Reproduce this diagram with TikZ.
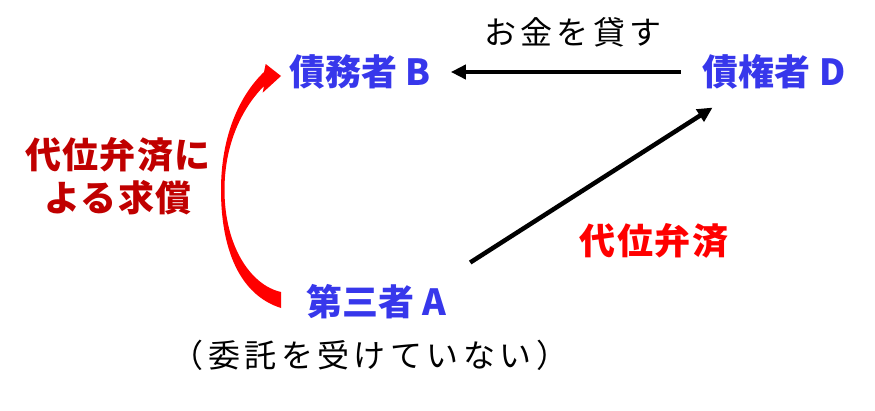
\documentclass[tikz,border=0pt]{standalone}
\usepackage{fontspec}
\setmainfont{Noto Sans CJK JP}
\newfontfamily\thinjp[LetterSpace=14]{Noto Sans CJK JP}
\newfontfamily\widejp[LetterSpace=4]{Noto Sans CJK JP}
\usetikzlibrary{arrows.meta}

\definecolor{partyblue}{RGB}{55,55,235}
\definecolor{claimred}{RGB}{192,0,0}

\tikzset{
	party/.style={font=\fontsize{36}{40}\selectfont\bfseries, text=partyblue, inner sep=0pt},
	note/.style={font=\thinjp\fontsize{32}{36}\selectfont, inner sep=0pt},
	redlabel/.style={font=\widejp\fontsize{36}{43}\selectfont\bfseries, inner sep=0pt},
	flow/.style={line width=4.5pt, -{Triangle[length=15pt,width=14pt]}}
}

\begin{document}
\begin{tikzpicture}[x=1pt,y=-1pt]
\useasboundingbox (0,0) rectangle (875,410);

% parties
\node[party] (B) at (360,72) {債務者 B};
\node[party] (D) at (774,72) {債権者 D};
\node[party] (A) at (376,302) {第三者 A};

% labels
\node[note] (lend) at (573,32) {お金を貸す};
\node[note] (nomandate) at (370,355) {（委託を受けていない）};
\node[redlabel, text=red] (pay) at (654,241) {代位弁済};
\node[redlabel, text=claimred, align=center] (claim) at (118,176) {代位弁済に\\よる求償};

% arrows
\draw[flow, shorten <=22pt, shorten >=20pt] (D.west) -- (B.east);
\draw[flow] ([xshift=24pt,yshift=22pt]A.north east) -- ([xshift=10pt,yshift=-18pt]D.south west);

% red curved arrow, A back to B
\fill[red] (281,308) .. controls (240,295) and (221,250) .. (221,190)
	.. controls (221,135) and (240,95) .. (264,72)
	-- (265.7,64) -- (281,76) -- (262.7,92.7) -- (264,86)
	.. controls (245,105) and (224.5,140) .. (224.5,190)
	.. controls (224.5,245) and (250,285) .. (281,292) -- cycle;
\end{tikzpicture}
\end{document}
